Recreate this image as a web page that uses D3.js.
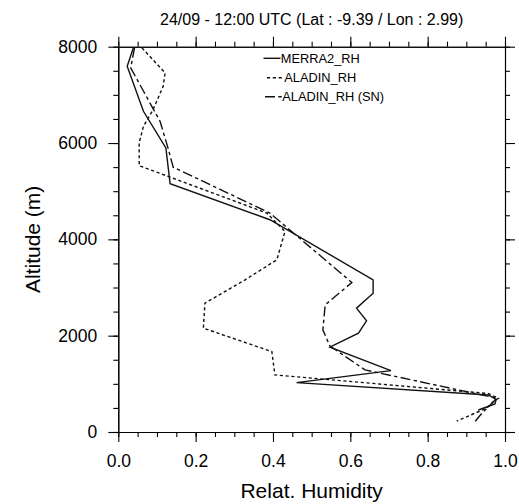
<!DOCTYPE html>
<html>
<head>
<meta charset="utf-8">
<script src="https://cdn.jsdelivr.net/npm/d3@7"></script>
<style>
  html, body { margin: 0; padding: 0; background: #fff; }
  svg { display: block; font-family: "Liberation Sans", Arial, Helvetica, sans-serif; }
</style>
</head>
<body>
<svg id="chart" width="519" height="504"></svg>
<script>
// ---- data ----
const titleText = "24/09 - 12:00 UTC (Lat : -9.39 / Lon : 2.99)";
const xLabel = "Relat. Humidity";
const yLabel = "Altitude (m)";
const seriesNames = ["MERRA2_RH", "ALADIN_RH", "ALADIN_RH (SN)"];

const merraRH  = [0.039, 0.023, 0.065, 0.123, 0.134, 0.392, 0.659, 0.659, 0.616, 0.642, 0.621, 0.547, 0.705, 0.461, 0.957, 0.977, 0.974, 0.931];
const merraAlt = [7977, 7594, 6659, 5898, 5156, 4407, 3160, 2883, 2571, 2307, 2052, 1760, 1274, 1025, 769, 679, 582, 457];

const aladinRH  = [0.061, 0.121, 0.116, 0.090, 0.065, 0.054, 0.054, 0.384, 0.431, 0.410, 0.328, 0.224, 0.220, 0.397, 0.405, 0.956, 0.983, 0.970, 0.952, 0.875];
const aladinAlt = [7977, 7457, 7178, 6694, 6347, 6002, 5530, 4546, 4164, 3575, 3160, 2675, 2156, 1669, 1185, 800, 700, 630, 492, 228];

const snRH  = [0.042, 0.032, 0.108, 0.129, 0.142, 0.392, 0.604, 0.535, 0.529, 0.547, 0.638, 0.961, 0.979, 0.957, 0.940, 0.922];
const snAlt = [7977, 7561, 6451, 5883, 5499, 4546, 3104, 2640, 2120, 1788, 1289, 733, 700, 526, 388, 214];

const xMajorTicks = [0, 0.2, 0.4, 0.6, 0.8, 1.0];
const xTickLabels = ["0.0", "0.2", "0.4", "0.6", "0.8", "1.0"];
const xMinorTicks = d3.range(0, 1.0001, 0.05);
const yMajorTicks = [0, 2000, 4000, 6000, 8000];
const yTickLabels = ["0", "2000", "4000", "6000", "8000"];
const yMinorTicks = d3.range(0, 8001, 500);

// ---- layout ----
const svg = d3.select("#chart");
const L = 118.3, R = 505, T = 46.7, B = 432;
const x = d3.scaleLinear().domain([0, 1]).range([L, R]);
const y = d3.scaleLinear().domain([0, 8000]).range([B, T]);
const ink = "#000";

// title
svg.append("text")
  .attr("x", (L + R) / 2).attr("y", 25)
  .attr("text-anchor", "middle")
  .attr("font-size", 16).attr("fill", ink)
  .text(titleText);

function styleAxis(g) {
  g.selectAll("path.domain").attr("stroke", ink).attr("stroke-width", 1.1);
  g.selectAll(".tick line").attr("stroke", ink).attr("stroke-width", 1.1);
  g.selectAll(".tick text").attr("fill", ink);
}

// minor ticks (all four sides)
const minorSpecs = [
  [d3.axisBottom(x), `translate(0,${B})`, xMinorTicks],
  [d3.axisTop(x), `translate(0,${T})`, xMinorTicks],
  [d3.axisLeft(y), `translate(${L},0)`, yMinorTicks],
  [d3.axisRight(y), `translate(${R},0)`, yMinorTicks]
];
minorSpecs.forEach(([ax, tr, vals]) => {
  const g = svg.append("g").attr("transform", tr)
    .call(ax.tickValues(vals).tickSize(5).tickSizeOuter(0).tickFormat(""));
  styleAxis(g);
});

// major ticks
const gxB = svg.append("g").attr("transform", `translate(0,${B})`)
  .call(d3.axisBottom(x).tickValues(xMajorTicks).tickSize(10).tickSizeOuter(0).tickPadding(13)
    .tickFormat((d, i) => xTickLabels[i]));
gxB.selectAll(".tick text").attr("font-size", 17.5).attr("font-family", "Liberation Sans, Arial, sans-serif");
styleAxis(gxB);

const gxT = svg.append("g").attr("transform", `translate(0,${T})`)
  .call(d3.axisTop(x).tickValues(xMajorTicks).tickSize(10).tickSizeOuter(0).tickFormat(""));
styleAxis(gxT);

const gyL = svg.append("g").attr("transform", `translate(${L},0)`)
  .call(d3.axisLeft(y).tickValues(yMajorTicks).tickSize(10).tickSizeOuter(0).tickPadding(11)
    .tickFormat((d, i) => yTickLabels[i]));
gyL.selectAll(".tick text").attr("font-size", 17.5).attr("font-family", "Liberation Sans, Arial, sans-serif");
styleAxis(gyL);

const gyR = svg.append("g").attr("transform", `translate(${R},0)`)
  .call(d3.axisRight(y).tickValues(yMajorTicks).tickSize(10).tickSizeOuter(0).tickFormat(""));
styleAxis(gyR);

// axis titles
svg.append("text")
  .attr("x", (L + R) / 2).attr("y", 498)
  .attr("text-anchor", "middle").attr("font-size", 21).attr("fill", ink)
  .text(xLabel);
svg.append("text")
  .attr("transform", `translate(39.5,${(T + B) / 2}) rotate(-90)`)
  .attr("text-anchor", "middle").attr("font-size", 21).attr("fill", ink)
  .text(yLabel);

// series
const dashes = [null, "3.2,2.6", "10,3.3,3.4,3.3"];
const seriesRH = [merraRH, aladinRH, snRH];
const seriesAlt = [merraAlt, aladinAlt, snAlt];
const line = d3.line().x(d => x(d[0])).y(d => y(d[1]));

seriesRH.forEach((vals, s) => {
  const pts = vals.map((v, i) => [v, seriesAlt[s][i]]);
  svg.append("path")
    .datum(pts)
    .attr("d", line)
    .attr("fill", "none")
    .attr("stroke", "#111")
    .attr("stroke-width", 1.4)
    .attr("stroke-linejoin", "miter")
    .attr("stroke-dasharray", dashes[s]);
});

// legend
const legendX = [263.5, 267, 265];
const legendY = [58.3, 77.7, 96.7];
seriesNames.forEach((name, s) => {
  const g = svg.append("g");
  g.append("line")
    .attr("x1", legendX[s]).attr("x2", legendX[s] + 17)
    .attr("y1", legendY[s]).attr("y2", legendY[s])
    .attr("stroke", "#111").attr("stroke-width", 1.4)
    .attr("stroke-dasharray", dashes[s]);
  g.append("text")
    .attr("x", legendX[s] + 17.3).attr("y", legendY[s])
    .attr("dy", "0.36em")
    .attr("font-size", 12.8).attr("fill", ink)
    .text(name);
});
</script>
</body>
</html>
